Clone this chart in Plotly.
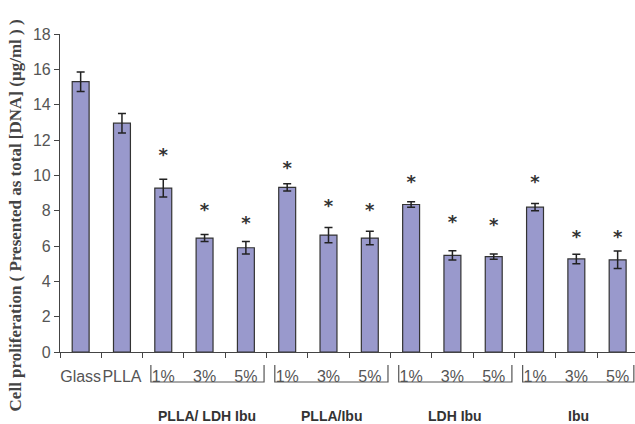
import plotly.graph_objects as go

labels = ["Glass", "PLLA", "1%", "3%", "5%", "1%", "3%", "5%", "1%", "3%", "5%", "1%", "3%", "5%"]
values = [15.3, 12.95, 9.28, 6.45, 5.9, 9.32, 6.62, 6.45, 8.35, 5.47, 5.4, 8.2, 5.27, 5.22]
errors = [0.55, 0.55, 0.5, 0.2, 0.35, 0.2, 0.43, 0.38, 0.15, 0.26, 0.15, 0.2, 0.27, 0.5]
star_y = [None, None, 11.09, 7.94, 7.23, 10.34, 8.19, 7.94, 9.55, 7.25, 7.13, 9.55, 6.41, 6.41]
groups = ["PLLA/ LDH Ibu", "PLLA/Ibu", "LDH Ibu", "Ibu"]
group_start = [2, 5, 8, 11]
ytitle = "Cell proliferation ( Presented as total [DNA] (µg/ml ) )"

xs = list(range(len(labels)))
XR = [-0.5, 13.42]


def xpaper(v):
    return (v - XR[0]) / (XR[1] - XR[0])


fig = go.Figure()
fig.add_trace(go.Bar(
    x=xs, y=values, width=0.41,
    marker=dict(color="#9999CC", line=dict(color="#333333", width=1.2)),
    error_y=dict(type="data", array=errors, color="#222222", thickness=1.5, width=4),
    showlegend=False, hoverinfo="skip",
))
sx = [x for x, s in zip(xs, star_y) if s is not None]
sy = [s for s in star_y if s is not None]
fig.add_trace(go.Scatter(
    x=sx, y=sy, mode="text", text=["<b>*</b>"] * len(sx),
    textfont=dict(family="DejaVu Sans", size=18, color="#333333"),
    textposition="middle center", showlegend=False, hoverinfo="skip",
))

shapes = []
annotations = []
for g, s in zip(groups, group_start):
    x0 = xpaper(s - 0.3)
    x1 = min(xpaper(s + 2.44), 0.998)
    shapes.append(dict(type="path", xref="paper", yref="paper",
                       path=f"M {x0},-0.041 L {x0},-0.0943 L {x1},-0.0943 L {x1},-0.041",
                       line=dict(color="#555555", width=1.2)))
    annotations.append(dict(x=(x0 + x1) / 2, y=-0.2, xref="paper", yref="paper",
                            text=f"<b>{g}</b>", showarrow=False,
                            font=dict(family="Liberation Sans", size=14, color="#333333"),
                            xanchor="center", yanchor="middle"))

annotations.append(dict(x=-0.078, y=0.43, xref="paper", yref="paper",
                        text=f"<b>{ytitle}</b>", textangle=-90, showarrow=False,
                        font=dict(family="Liberation Serif", size=17, color="#444444"),
                        xanchor="center", yanchor="middle"))

fig.update_layout(
    width=635, height=424,
    margin=dict(l=60, r=0, t=34, b=72),
    plot_bgcolor="white", paper_bgcolor="white",
    shapes=shapes, annotations=annotations,
    xaxis=dict(range=XR, tickvals=xs, ticktext=labels, ticks="", tickangle=0,
               showline=True, linecolor="#444444", linewidth=1.2,
               showgrid=False, zeroline=False,
               tickfont=dict(family="Liberation Sans", size=16, color="#555555"),
               ticklabelstandoff=10,
               minor=dict(tickvals=[i - 0.5 for i in range(15)], ticks="outside",
                          ticklen=5, tickcolor="#444444", tickwidth=1.2, showgrid=False)),
    yaxis=dict(range=[0, 18], dtick=2, ticks="outside", ticklen=5,
               tickcolor="#444444", tickwidth=1.2,
               showline=True, linecolor="#444444", linewidth=1.2,
               showgrid=False, zeroline=False,
               tickfont=dict(family="Liberation Sans", size=16, color="#555555")),
)

fig.write_html("out.html")
